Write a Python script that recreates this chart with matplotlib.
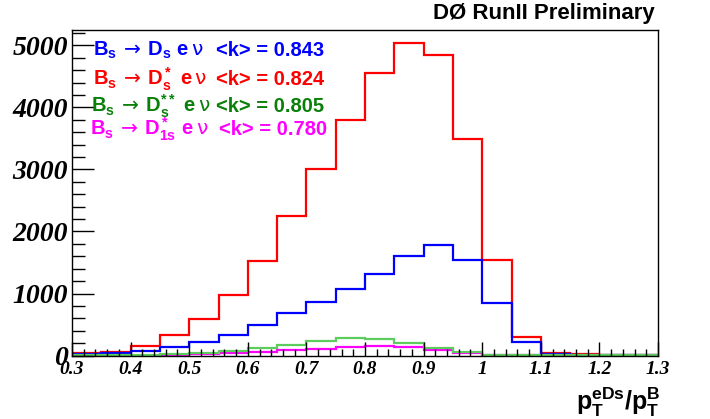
import matplotlib
matplotlib.use('Agg')
import matplotlib.pyplot as plt
import numpy as np
from matplotlib.ticker import MultipleLocator

plt.rcParams['mathtext.fontset'] = 'custom'
plt.rcParams['mathtext.rm'] = 'DejaVu Sans'
plt.rcParams['mathtext.bf'] = 'Liberation Sans:bold'
plt.rcParams['mathtext.it'] = 'DejaVu Sans'

# bin edges 0.30 .. 1.30, width 0.05
edges = np.round(np.arange(0.3, 1.3001, 0.05), 2)

ds_e_nu = [20, 45, 75, 142, 215, 338, 500, 690, 868, 1072,
           1314, 1600, 1782, 1546, 852, 220, 20, 15, 5, 3]
dsstar_e_nu = [40, 60, 160, 325, 588, 970, 1530, 2243, 3005, 3806,
               4553, 5043, 4844, 3484, 1548, 294, 35, 20, 15, 5]
dss2_e_nu = [5, 5, 10, 24, 45, 75, 121, 177, 236, 278,
             266, 208, 121, 50, 10, 3, 2, 1, 1, 1]
d1s_e_nu = [0, 0, 0, 5, 25, 45, 51, 85, 100, 142,
            157, 130, 94, 45, 8, 2, 1, 0, 0, 0]

labels = [r'$\mathbf{B_s}\,\rightarrow\,\mathbf{D_s}\ \mathbf{e}\,\nu$',
          r'$\mathbf{B_s}\,\rightarrow\,\mathbf{D_s^*}\ \mathbf{e}\,\nu$',
          r'$\mathbf{B_s}\,\rightarrow\,\mathbf{D_s^{**}}\ \mathbf{e}\,\nu$',
          r'$\mathbf{B_s}\,\rightarrow\,\mathbf{D_{1s}^*}\ \mathbf{e}\,\nu$']
mean_k = ['0.843', '0.824', '0.805', '0.780']
text_colors = ['#0000ff', '#ff0000', '#0a800a', '#ff00ff']

W, H = 710, 419
fig = plt.figure(figsize=(7.1, 4.19), dpi=100)
ax = fig.add_axes([72 / W, 1 - 355.5 / H, (658 - 72) / W, (355.5 - 30) / H])

lw = 1.6
ax.stairs(dsstar_e_nu, edges, color='#ff0000', lw=lw, baseline=None)
ax.stairs(ds_e_nu, edges, color='#0000ff', lw=lw, baseline=None)
ax.stairs(d1s_e_nu, edges, color='#ff00ff', lw=lw, baseline=None)
ax.stairs(dss2_e_nu, edges, color='#5ccd5c', lw=lw, baseline=None)

ax.set_xlim(0.3, 1.3)
ax.set_ylim(0, 5250)
ax.xaxis.set_major_locator(MultipleLocator(0.1))
ax.xaxis.set_minor_locator(MultipleLocator(0.02))
ax.yaxis.set_major_locator(MultipleLocator(1000))
ax.yaxis.set_minor_locator(MultipleLocator(200))
ax.tick_params(which='both', direction='in', top=False, right=False)
ax.tick_params(axis='x', which='major', length=10, width=1, pad=4)
ax.tick_params(axis='x', which='minor', length=5, width=1)
ax.tick_params(axis='y', which='major', length=16, width=1, pad=3)
ax.tick_params(axis='y', which='minor', length=9, width=1)
for sp in ax.spines.values():
    sp.set_linewidth(1.0)

ax.set_xticks(np.round(np.arange(0.3, 1.31, 0.1), 1))
ax.set_xticklabels(['0.3', '0.4', '0.5', '0.6', '0.7', '0.8', '0.9', '1', '1.1', '1.2', '1.3'])
for t in ax.get_xticklabels():
    t.set_fontfamily('Liberation Serif')
    t.set_fontweight('bold')
    t.set_fontstyle('italic')
    t.set_fontsize(14)
for t in ax.get_yticklabels():
    t.set_fontfamily('Liberation Serif')
    t.set_fontweight('bold')
    t.set_fontstyle('italic')
    t.set_fontsize(20)

fig.text(576 / W, 1 - 410 / H, r'$\mathbf{p_T^{eDs}/p_T^B}$', fontsize=18,
         ha='left', va='baseline')

fig.text(655 / W, 1 - 13 / H, 'DØ RunII Preliminary', fontsize=16,
         fontweight='bold', family=['Liberation Sans', 'DejaVu Sans'],
         ha='right', va='center')

baselines = [56, 85, 112, 135]
starts = [93, 93, 91, 90]
kx = [216, 216, 216, 219]
for i in range(4):
    fig.text(starts[i] / W, 1 - baselines[i] / H, labels[i], fontsize=14.5,
             color=text_colors[i], ha='left', va='baseline')
    fig.text(kx[i] / W, 1 - baselines[i] / H, '<k> = ' + mean_k[i], fontsize=14.5,
             color=text_colors[i], fontweight='bold', family='Liberation Sans',
             ha='left', va='baseline')

fig.savefig('out.png', dpi=100)
